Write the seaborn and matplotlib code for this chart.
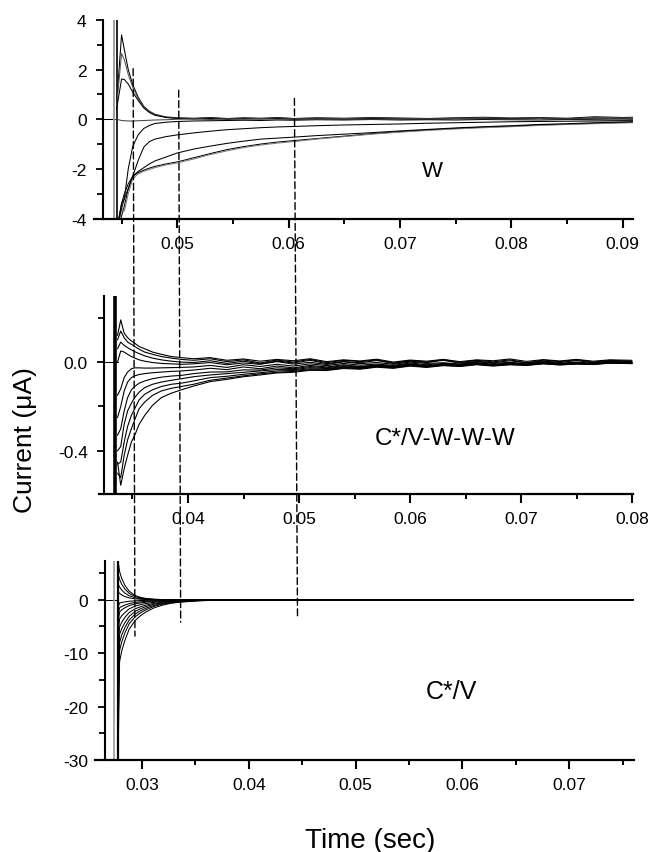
import matplotlib
matplotlib.use("Agg")
import matplotlib.pyplot as plt
import seaborn as sns
from matplotlib.patches import ConnectionPatch
from matplotlib.ticker import MultipleLocator, FuncFormatter

sns.set_style("ticks")
plt.rcParams['font.family'] = ['Liberation Sans', 'DejaVu Sans']
plt.rcParams['axes.unicode_minus'] = False
for key in ("text.color", "axes.labelcolor", "xtick.color", "ytick.color", "axes.edgecolor"):
    plt.rcParams[key] = "black"

# ---------------- Panel 1 : W ----------------
t_w = [0.04455, 0.04500, 0.04525, 0.04560, 0.04600, 0.04650, 0.04700, 0.04750, 0.04800, 0.04900,
       0.05000, 0.05150, 0.05300, 0.05450, 0.05600, 0.05750, 0.05900, 0.06050, 0.06250, 0.06500,
       0.06750, 0.07000, 0.07250, 0.07500, 0.07750, 0.08000, 0.08250, 0.08500, 0.08750, 0.09000, 0.09090]
w_p1 = [0.6, 3.4, 2.8, 2.0, 1.4, 0.88, 0.52, 0.32, 0.2, 0.09, 0.06, 0.04, 0.07, 0.03, 0.06, 0.04,
        0.07, 0.03, 0.06, 0.04, 0.07, 0.05, 0.03, 0.06, 0.08, 0.05, 0.07, 0.04, 0.1, 0.07, 0.08]
w_p2 = [0.5, 2.65, 2.4, 1.8, 1.3, 0.82, 0.5, 0.3, 0.18, 0.08, 0.04, 0.02, 0.05, 0.01, 0.04, 0.02,
        0.05, 0.01, 0.04, 0.02, 0.05, 0.03, 0.01, 0.04, 0.05, 0.03, 0.05, 0.02, 0.06, 0.05, 0.06]
w_p3 = [0.4, 1.62, 1.6, 1.42, 1.1, 0.75, 0.45, 0.27, 0.16, 0.07, 0.03, 0.01, 0.03, 0.0, 0.02, 0.01,
        0.03, 0.0, 0.02, 0.01, 0.03, 0.01, 0.0, 0.02, 0.03, 0.02, 0.03, 0.01, 0.04, 0.03, 0.04]
w_n1 = [-4.5, -3.9, -3.5, -2.8, -2.3, -2.15, -2.05, -1.97, -1.9, -1.8, -1.72, -1.55, -1.38, -1.22,
        -1.1, -1.0, -0.92, -0.86, -0.78, -0.68, -0.58, -0.5, -0.43, -0.37, -0.32, -0.28, -0.23,
        -0.2, -0.16, -0.13, -0.12]
w_n2 = [-4.5, -3.6, -3.7, -3.0, -2.4, -2.2, -2.1, -2.02, -1.95, -1.84, -1.76, -1.6, -1.42, -1.27,
        -1.14, -1.04, -0.96, -0.9, -0.8, -0.7, -0.6, -0.52, -0.45, -0.39, -0.34, -0.3, -0.25,
        -0.21, -0.18, -0.15, -0.14]
w_n3 = [-4.5, -3.4, -3.0, -2.6, -2.3, -2.1, -1.95, -1.8, -1.68, -1.52, -1.36, -1.2, -1.08, -0.97,
        -0.88, -0.8, -0.76, -0.72, -0.66, -0.6, -0.54, -0.47, -0.41, -0.35, -0.3, -0.26, -0.21,
        -0.18, -0.14, -0.11, -0.1]
w_n4 = [-4.5, -3.4, -3.2, -2.8, -2.3, -1.65, -1.12, -0.9, -0.8, -0.7, -0.63, -0.55, -0.48, -0.42,
        -0.38, -0.34, -0.31, -0.29, -0.26, -0.23, -0.21, -0.19, -0.16, -0.14, -0.12, -0.1, -0.09,
        -0.08, -0.07, -0.06, -0.06]
w_n5 = [-4.5, -3.6, -3.2, -2.0, -1.1, -0.62, -0.37, -0.25, -0.17, -0.12, -0.09, -0.07, -0.06, -0.05,
        -0.04, -0.05, -0.03, -0.04, -0.02, -0.03, -0.01, -0.03, -0.02, -0.03, -0.01, -0.02, -0.03,
        -0.01, -0.02, -0.03, -0.02]
w_n6 = [0.0, -0.05, -0.06, -0.07, -0.07, -0.06, -0.05, -0.04, -0.03, -0.02, 0.0, 0.02, -0.01, 0.02,
        0.0, 0.03, 0.0, 0.02, 0.01, 0.03, 0.0, 0.02, 0.01, 0.03, 0.02, 0.0, 0.03, 0.01, 0.04, 0.02, 0.03]
w_base_t = [0.04337, 0.04440]
w_base_v = [0.0, 0.0]
w_spike_gray = [0.04429, 0.04429]
w_spike_black = [0.04455, 0.04455]
w_spike_v = [-6.0, 6.0]

# ---------------- Panel 2 : C*/V-W-W-W ----------------
t_m = [0.03365, 0.03394, 0.03425, 0.03456, 0.0349, 0.0352, 0.0356, 0.0361, 0.0368, 0.0376, 0.0385, 0.0394,
       0.0405, 0.0420, 0.0435, 0.0450, 0.0465, 0.0480, 0.0495, 0.0510, 0.0525, 0.0540, 0.0555, 0.0570,
       0.0585, 0.0600, 0.0615, 0.0630, 0.0645, 0.0660, 0.0675, 0.0690, 0.0705, 0.0720, 0.0735, 0.0750,
       0.0765, 0.0780, 0.0800]
m_1 = [0.12, 0.19, 0.13, 0.11, 0.095, 0.085, 0.07, 0.06, 0.045, 0.035, 0.025, 0.02,
       0.015, 0.02, 0.008, 0.014, 0.004, 0.012, 0.006, 0.015, 0.002, 0.01, 0.005, 0.013, 0.0, 0.009,
       0.004, 0.012, 0.002, 0.01, 0.006, 0.014, 0.003, 0.011, 0.005, 0.012, 0.004, 0.01, 0.008]
m_2 = [0.10, 0.14, 0.11, 0.09, 0.08, 0.07, 0.058, 0.045, 0.035, 0.025, 0.018, 0.012,
       0.008, 0.015, 0.002, 0.01, -0.004, 0.009, 0.0, 0.012, -0.003, 0.008, 0.002, 0.01, -0.004, 0.007,
       0.0, 0.011, -0.002, 0.008, 0.001, 0.01, -0.003, 0.009, 0.002, 0.011, 0.0, 0.008, 0.004]
m_3 = [0.06, 0.09, 0.075, 0.065, 0.055, 0.047, 0.038, 0.028, 0.018, 0.01, 0.004, 0.0,
       -0.002, 0.006, -0.006, 0.004, -0.008, 0.005, -0.004, 0.008, -0.007, 0.003, -0.003, 0.007, -0.006,
       0.004, -0.002, 0.008, -0.005, 0.004, -0.003, 0.006, -0.004, 0.005, -0.002, 0.007, -0.003, 0.005, 0.002]
m_4 = [0.0, 0.05, 0.045, 0.035, 0.025, 0.018, 0.01, 0.004, -0.002, -0.006, -0.008, -0.01,
       -0.008, -0.002, -0.012, -0.004, -0.01, 0.002, -0.009, -0.001, -0.011, 0.001, -0.007, -0.002, -0.01,
       0.0, -0.006, -0.003, -0.009, 0.002, -0.006, -0.001, -0.008, 0.001, -0.005, 0.0, -0.006, 0.002, -0.002]
m_5 = [-0.15, -0.12, -0.07, -0.045, -0.03, -0.026, -0.026, -0.027, -0.027, -0.026, -0.025, -0.024,
       -0.022, -0.015, -0.024, -0.012, -0.02, -0.01, -0.018, -0.008, -0.016, -0.006, -0.014, -0.009, -0.015,
       -0.004, -0.012, -0.006, -0.011, -0.002, -0.01, -0.004, -0.009, 0.0, -0.008, -0.003, -0.006, 0.001, -0.004]
m_6 = [-0.25, -0.2, -0.13, -0.09, -0.07, -0.062, -0.056, -0.052, -0.048, -0.045, -0.042, -0.04,
       -0.036, -0.028, -0.034, -0.022, -0.03, -0.018, -0.026, -0.015, -0.022, -0.012, -0.02, -0.013, -0.018,
       -0.008, -0.016, -0.01, -0.014, -0.005, -0.012, -0.007, -0.011, -0.003, -0.009, -0.005, -0.008, -0.001, -0.004]
m_7 = [-0.33, -0.3, -0.22, -0.16, -0.125, -0.11, -0.095, -0.085, -0.075, -0.068, -0.063, -0.06,
       -0.052, -0.045, -0.044, -0.035, -0.036, -0.026, -0.03, -0.02, -0.026, -0.016, -0.022, -0.015, -0.02,
       -0.01, -0.018, -0.011, -0.015, -0.006, -0.013, -0.008, -0.012, -0.004, -0.01, -0.006, -0.008, -0.002, -0.005]
m_8 = [-0.4, -0.38, -0.28, -0.22, -0.185, -0.16, -0.135, -0.115, -0.1, -0.09, -0.082, -0.075,
       -0.066, -0.058, -0.052, -0.046, -0.04, -0.034, -0.034, -0.025, -0.029, -0.02, -0.025, -0.017, -0.022,
       -0.012, -0.019, -0.012, -0.016, -0.008, -0.014, -0.009, -0.012, -0.005, -0.01, -0.006, -0.008, -0.003, -0.005]
m_9 = [-0.46, -0.45, -0.36, -0.29, -0.24, -0.21, -0.17, -0.145, -0.125, -0.11, -0.1, -0.095,
       -0.085, -0.07, -0.064, -0.055, -0.048, -0.04, -0.038, -0.03, -0.032, -0.023, -0.027, -0.019, -0.024,
       -0.014, -0.02, -0.013, -0.017, -0.009, -0.015, -0.01, -0.013, -0.006, -0.011, -0.007, -0.009, -0.003, -0.006]
m_10 = [-0.5, -0.52, -0.42, -0.35, -0.3, -0.26, -0.21, -0.18, -0.15, -0.13, -0.118, -0.11,
        -0.1, -0.082, -0.072, -0.062, -0.053, -0.046, -0.042, -0.034, -0.035, -0.026, -0.03, -0.021, -0.026,
        -0.016, -0.022, -0.014, -0.018, -0.01, -0.016, -0.011, -0.014, -0.007, -0.012, -0.008, -0.01, -0.004, -0.006]
m_11 = [-0.45, -0.555, -0.48, -0.42, -0.36, -0.33, -0.28, -0.24, -0.195, -0.16, -0.14, -0.125,
        -0.108, -0.088, -0.078, -0.066, -0.058, -0.049, -0.046, -0.037, -0.038, -0.029, -0.032, -0.023, -0.028,
        -0.018, -0.024, -0.016, -0.02, -0.012, -0.018, -0.012, -0.015, -0.008, -0.013, -0.009, -0.011, -0.005, -0.007]
m_base_t = [0.03246, 0.03370]
m_base_v = [0.0, 0.0]
m_spike = [0.03338, 0.03338]
m_spike_v = [-0.7, 0.4]

# ---------------- Panel 3 : C*/V ----------------
t_b = [0.02775, 0.02790, 0.02810, 0.02840, 0.02880, 0.02935, 0.02985, 0.03035, 0.03115, 0.03185,
       0.03265, 0.03345, 0.03435, 0.03535, 0.03685, 0.03985, 0.04985, 0.05985, 0.06985, 0.07600]
b_n1 = [-31, -11.6, -9.6, -7.6, -5.5, -3.9, -3.0, -2.3, -1.5, -1.05, -0.68, -0.48, -0.34, -0.2, -0.09, -0.02, 0, 0, 0, 0]
b_n2 = [-26, -9.5, -7.9, -6.2, -4.5, -3.2, -2.46, -1.89, -1.23, -0.86, -0.56, -0.39, -0.28, -0.16, -0.07, -0.02, 0, 0, 0, 0]
b_n3 = [-20, -8.0, -6.6, -5.2, -3.8, -2.7, -2.07, -1.59, -1.04, -0.72, -0.47, -0.33, -0.23, -0.14, -0.06, -0.01, 0, 0, 0, 0]
b_n4 = [-14, -6.5, -5.4, -4.3, -3.1, -2.2, -1.68, -1.29, -0.84, -0.59, -0.38, -0.27, -0.19, -0.11, -0.05, -0.01, 0, 0, 0, 0]
b_n5 = [-10, -5.1, -4.2, -3.3, -2.4, -1.7, -1.32, -1.01, -0.66, -0.46, -0.3, -0.21, -0.15, -0.09, -0.04, 0, 0, 0, 0, 0]
b_n6 = [-7, -3.6, -3.0, -2.4, -1.7, -1.2, -0.93, -0.71, -0.47, -0.33, -0.21, -0.15, -0.11, -0.06, -0.03, 0, 0, 0, 0, 0]
b_n7 = [-4.5, -2.3, -1.9, -1.5, -1.1, -0.78, -0.6, -0.46, -0.3, -0.21, -0.14, -0.1, -0.07, -0.04, -0.02, 0, 0, 0, 0, 0]
b_n8 = [-3, -1.5, -1.25, -1.0, -0.72, -0.5, -0.39, -0.3, -0.2, -0.14, -0.09, -0.06, -0.04, -0.02, -0.01, 0, 0, 0, 0, 0]
b_n9 = [-1.5, -0.6, -0.5, -0.4, -0.28, -0.2, -0.15, -0.12, -0.08, -0.05, -0.03, -0.02, -0.01, 0, 0, 0, 0, 0, 0, 0]
b_p1 = [7.5, 5.3, 4.0, 2.7, 1.6, 0.8, 0.45, 0.25, 0.1, 0.04, 0.01, 0, 0, 0, 0, 0, 0, 0, 0, 0]
b_p2 = [5.0, 3.8, 2.9, 2.0, 1.2, 0.6, 0.34, 0.18, 0.07, 0.03, 0.01, 0, 0, 0, 0, 0, 0, 0, 0, 0]
b_p3 = [3.0, 2.4, 1.8, 1.25, 0.75, 0.38, 0.21, 0.11, 0.04, 0.02, 0, 0, 0, 0, 0, 0, 0, 0, 0, 0]
b_p4 = [1.5, 1.2, 0.9, 0.6, 0.36, 0.18, 0.1, 0.05, 0.02, 0, 0, 0, 0, 0, 0, 0, 0, 0, 0, 0]
b_base_t = [0.02654, 0.02775]
b_base_v = [0.0, 0.0]
b_spike_gray = [0.02738, 0.02738]
b_spike_black = [0.02771, 0.02771]
b_spike_v = [-33.0, 9.0]

# dashed guide lines: (time, current) in top panel -> (time, current) in bottom panel
guide_top_t = [0.04604, 0.05013, 0.06052]
guide_top_v = [2.04, 1.17, 0.84]
guide_bot_t = [0.02934, 0.03362, 0.04456]
guide_bot_v = [-6.8, -4.2, -3.2]

labels = ["W", "C*/V-W-W-W", "C*/V"]

# ---------------- drawing ----------------
W, H = 648, 853
fig = plt.figure(figsize=(W / 100, H / 100), dpi=100)


def rect(x0, x1, y0, y1):
    return [x0 / W, 1 - y1 / H, (x1 - x0) / W, (y1 - y0) / H]


ax1 = fig.add_axes(rect(94, 633.3, 21, 219.5))
ax2 = fig.add_axes(rect(99, 632.7, 296.7, 494.5))
ax3 = fig.add_axes(rect(95, 634, 562.3, 761))


def trace(ax, t, v, color="black", lw=0.75):
    sns.lineplot(x=t, y=v, ax=ax, color=color, linewidth=lw, estimator=None,
                 sort=False, legend=False)


def fmt(decimals):
    def f(val, pos):
        if abs(val) < 1e-9:
            val = 0.0
        return f"{val:.{decimals}f}"
    return FuncFormatter(f)


def setup(ax, xlim, ylim, spine_x, xmaj, ymaj, ymin, ydec):
    ax.set_xlim(*xlim)
    ax.set_ylim(*ylim)
    ax.patch.set_alpha(0)
    for s in ("top", "right"):
        ax.spines[s].set_visible(False)
    ax.spines["left"].set_position(("data", spine_x))
    ax.spines["left"].set_linewidth(1.5)
    ax.spines["bottom"].set_linewidth(1.6)
    ax.xaxis.set_major_locator(MultipleLocator(xmaj))
    ax.xaxis.set_minor_locator(MultipleLocator(xmaj / 2))
    ax.yaxis.set_major_locator(MultipleLocator(ymaj))
    ax.yaxis.set_minor_locator(MultipleLocator(ymin))
    ax.xaxis.set_major_formatter(fmt(2))
    ax.yaxis.set_major_formatter(fmt(ydec))
    ax.tick_params(axis="x", which="major", direction="out", length=6.5, width=1.5,
                   pad=6, labelsize=12.5)
    ax.tick_params(axis="x", which="minor", direction="out", length=3.5, width=1.4)
    ax.tick_params(axis="y", which="major", direction="out", length=5, width=1.3,
                   pad=7, labelsize=12.5)
    ax.tick_params(axis="y", which="minor", direction="out", length=4.5, width=1.3)
    ax.set_xlabel("")
    ax.set_ylabel("")


# Panel 1
trace(ax1, w_base_t, w_base_v)
trace(ax1, w_spike_gray, w_spike_v, color="#9a9a9a", lw=1.3)
trace(ax1, w_spike_black, w_spike_v, color="black", lw=1.2)
for v, c in [(w_p1, "black"), (w_p2, "#555555"), (w_p3, "black"), (w_n1, "black"),
             (w_n2, "#7a7a7a"), (w_n3, "black"), (w_n4, "black"), (w_n5, "black"),
             (w_n6, "#444444")]:
    trace(ax1, t_w, v, color=c)
setup(ax1, (0.042525, 0.09095), (-4, 4), 0.04337, 0.01, 2, 1, 0)

# Panel 2
trace(ax2, m_base_t, m_base_v)
for v in [m_1, m_2, m_3, m_4, m_5, m_6, m_7, m_8, m_9, m_10, m_11]:
    trace(ax2, t_m, v, lw=0.8)
trace(ax2, m_spike, m_spike_v, lw=2.6)
setup(ax2, (0.031982, 0.080063), (-0.592, 0.299), 0.032459, 0.01, 0.4, 0.2, 1)

# Panel 3
trace(ax3, b_base_t, b_base_v)
trace(ax3, b_spike_gray, b_spike_v, color="#9a9a9a", lw=1.2)
for v in [b_n1, b_n2, b_n3, b_n4, b_n5, b_n6, b_n7, b_n8, b_n9, b_p1, b_p2, b_p3, b_p4]:
    trace(ax3, t_b, v, lw=0.75)
trace(ax3, b_spike_black, b_spike_v, lw=1.6)
setup(ax3, (0.025599, 0.076067), (-30, 7.2), 0.026536, 0.01, 10, 5, 0)

# Panel labels
ax1.text(0.0729, -2.05, labels[0], ha="center", va="center", fontsize=16)
ax2.text(0.0632, -0.342, labels[1], ha="center", va="center", fontsize=17.5)
ax3.text(0.0590, -17.0, labels[2], ha="center", va="center", fontsize=18)

# dashed guides across panels
for tt, vt, tb, vb in zip(guide_top_t, guide_top_v, guide_bot_t, guide_bot_v):
    con = ConnectionPatch(xyA=(tt, vt), coordsA=ax1.transData,
                          xyB=(tb, vb), coordsB=ax3.transData,
                          linestyle=(0, (5, 2.5)), linewidth=1.0, color="black")
    con.set_clip_on(False)
    fig.add_artist(con)

fig.text(25 / W, 1 - 440 / H, "Current (\u03bcA)", rotation=90, ha="center", va="center",
         fontsize=19)
fig.text(370 / W, 1 - 841 / H, "Time (sec)", ha="center", va="center", fontsize=20)

fig.savefig("out.png", dpi=100)
